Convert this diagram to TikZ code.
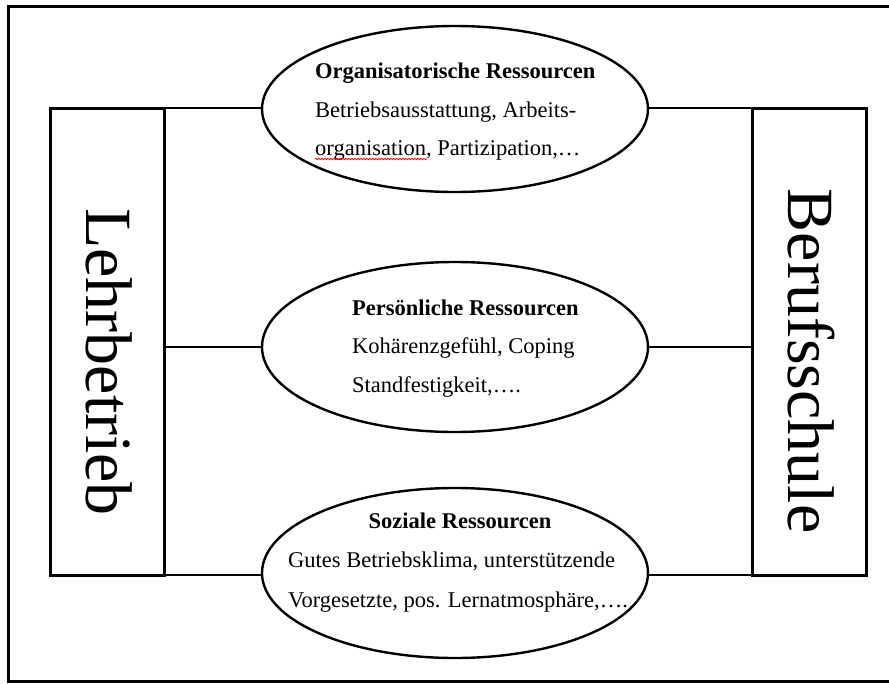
\documentclass[tikz,border=0pt]{standalone}
\usepackage{fontspec}
\setmainfont{Liberation Serif}
\usepackage{tikz}
\usetikzlibrary{positioning,shapes.geometric,decorations.pathmorphing}

\begin{document}
\begin{tikzpicture}[
    x=1pt, y=-1pt,
    sidebox/.style={draw, line width=3pt, minimum width=114pt, minimum height=467pt, inner sep=0pt, outer sep=0pt},
    res/.style={draw, ellipse, line width=2.4pt, minimum width=386pt, minimum height=170pt, inner sep=0pt, outer sep=0pt},
    head/.style={anchor=base west, inner sep=0pt, font=\fontsize{22.5}{27}\selectfont\bfseries},
    body/.style={anchor=base west, inner sep=0pt, font=\fontsize{22.5}{27}\selectfont},
    big/.style={rotate=-90, inner sep=0pt, font=\fontsize{66}{66}\selectfont},
    link/.style={line width=1.2pt}
]
\useasboundingbox (0,0) rectangle (889,683);
% outer frame
\draw[line width=2.5pt] (889,6.5) -- (8.5,6.5) -- (8.5,681.5) -- (889,681.5);

% side boxes
\node[sidebox] (lehr) at (107,341.5) {};
\node[sidebox] (beruf) at (809,341.5) {};
\node[big] (lehrT) at (109,362) {Lehrbetrieb};
\node[big] (berufT) at (811,361) {Berufsschule};

% resources
\node[res, minimum height=166pt] (org) at (455,109) {};
\node[res] (pers) at (455,347) {};
\node[res] (soz) at (455,573) {};

\node[head] (orgT) at (315,78) {Organisatorische Ressourcen};
\node[body] (orgA) at (315,117) {Betriebsausstattung, Arbeits-};
\node[body] (orgB) at (315,155) {organisation, Partizipation,…};
\draw[red, line width=0.8pt, decorate, decoration={snake, amplitude=0.7pt, segment length=3pt}]
    ([yshift=-4pt]orgB.base west) -- ++(112,0);

\node[head] (persT) at (352,315) {Persönliche Ressourcen};
\node[body] (persA) at (352,353) {Kohärenzgefühl, Coping};
\node[body] (persB) at (352,392) {Standfestigkeit,….};

\node[head, anchor=base] (sozT) at (460,528) {Soziale Ressourcen};
\node[body] (sozA) at (288,567) {Gutes Betriebsklima, unterstützende};
\node[body] (sozB) at (288,607) {Vorgesetzte, pos. Lernatmosphäre,….};

% connectors
\draw[link] (lehr.north east) -- (lehr.north east -| org.west);
\draw[link] (lehr.east |- pers.west) -- (pers.west);
\draw[link] (lehr.south east) -- (lehr.south east -| soz.west);
\draw[link] (org.east |- beruf.north west) -- (beruf.north west);
\draw[link] (pers.east) -- (pers.east -| beruf.west);
\draw[link] (soz.east |- beruf.south west) -- (beruf.south west);
\end{tikzpicture}
\end{document}
